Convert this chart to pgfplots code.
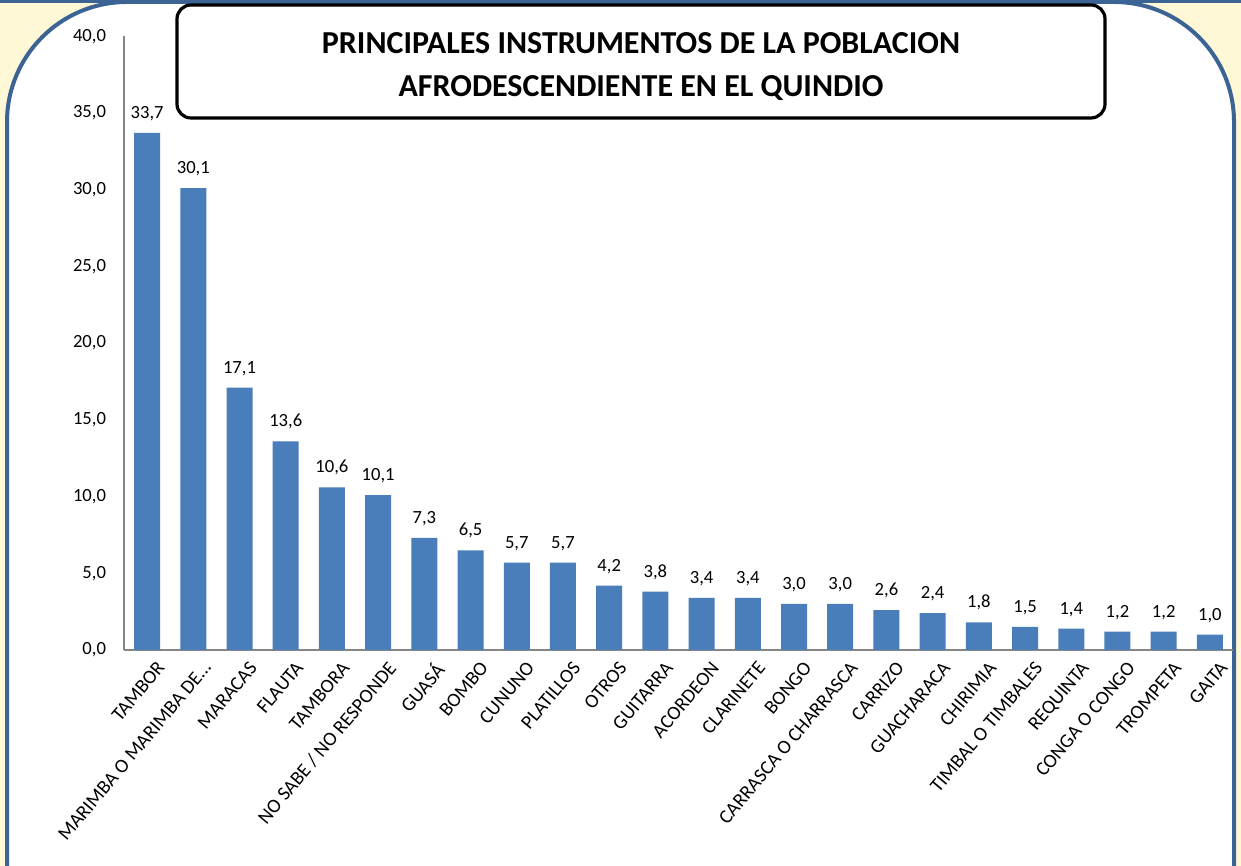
\documentclass[border=0pt]{standalone}
\usepackage{fontspec}
\setmainfont{Carlito}
\usepackage{pgfplots}
\pgfplotsset{compat=1.18}
\definecolor{barblue}{HTML}{4A7EBB}
\definecolor{frameblue}{HTML}{3B6393}
\definecolor{paleyellow}{HTML}{FFF8D6}
\definecolor{axisgray}{HTML}{868686}

\begin{document}
\begin{tikzpicture}[x=0.5pt,y=0.5pt]
% frame: 1 unit = 1 pixel of the reference, y counted from the bottom
\clip (0,0) rectangle (1241,866);
\fill[paleyellow] (0,0) rectangle (1241,866);
\filldraw[fill=white, draw=frameblue, line width=2pt, rounded corners=60pt] (7,-150) rectangle (1234,864);
\fill[frameblue] (0,863) rectangle (1241,866);
\draw[line width=1.6pt, rounded corners=7pt, fill=white] (177,861) rectangle (1105,748);
\node[align=center, font=\fontsize{16}{21.5}\selectfont\bfseries] at (641,799.5)
  {PRINCIPALES INSTRUMENTOS DE LA POBLACION\\AFRODESCENDIENTE EN EL QUINDIO};

\begin{axis}[
    at={(62pt,108pt)}, anchor=south west,
    scale only axis, width=554.5pt, height=306.85pt,
    ybar, bar width=13pt,
    xmin=-0.5, xmax=23.5, ymin=0, ymax=40,
    ytick={0,5,...,40},
    xtick={0,...,23},
    xticklabels={TAMBOR, MARIMBA O MARIMBA DE…, MARACAS, FLAUTA, TAMBORA,
      NO SABE / NO RESPONDE, GUASÁ, BOMBO, CUNUNO, PLATILLOS, OTROS, GUITARRA,
      ACORDEON, CLARINETE, BONGO, CARRASCA O CHARRASCA, CARRIZO, GUACHARACA,
      CHIRIMIA, TIMBAL O TIMBALES, REQUINTA, CONGA O CONGO, TROMPETA, GAITA},
    axis x line*=bottom, axis y line*=left,
    axis line style={axisgray, line width=0.75pt, -},
    major tick length=0pt,
    /pgf/number format/.cd, fixed, fixed zerofill, precision=1, use comma, assume math mode=true,
    /pgfplots/.cd,
    yticklabel style={font=\fontsize{9.3}{10}\selectfont, xshift=-5.5pt},
    xticklabel style={font=\fontsize{9.8}{10}\selectfont, rotate=50, anchor=north east, inner sep=1pt, xshift=0pt, yshift=-5.5pt},
    nodes near coords,
    every node near coord/.append style={font=\fontsize{9.3}{10}\selectfont, yshift=2.5pt},
    ]
    \addplot[fill=barblue, draw=none] coordinates {
      (0,33.7) (1,30.1) (2,17.1) (3,13.6) (4,10.6) (5,10.1) (6,7.3) (7,6.5)
      (8,5.7) (9,5.7) (10,4.2) (11,3.8) (12,3.4) (13,3.4) (14,3.0) (15,3.0)
      (16,2.6) (17,2.4) (18,1.8) (19,1.5) (20,1.4) (21,1.2) (22,1.2) (23,1.0)};
\end{axis}
\end{tikzpicture}
\end{document}
